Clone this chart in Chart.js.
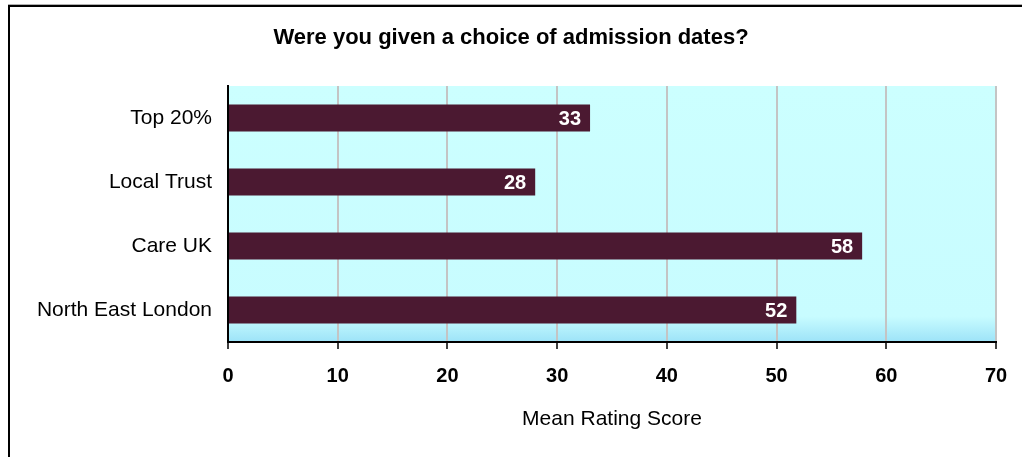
<!DOCTYPE html>
<html>
<head>
<meta charset="utf-8">
<script src="https://cdn.jsdelivr.net/npm/chart.js@4"></script>
<style>
    html, body { margin: 0; padding: 0; background: #fff; }
    #chart { display: block; }
</style>
</head>
<body>
<canvas id="chart" width="1022" height="457"></canvas>
<script>
const categories = ['Top 20%', 'Local Trust', 'Care UK', 'North East London'];
const scores = [33, 28, 57.8, 51.8];
const xTicks = [0, 10, 20, 30, 40, 50, 60, 70];

const barColor = '#4b1931';

// frame (top + left only) and the cyan plot background
const framePlugin = {
    id: 'frame',
    beforeDraw(chart) {
        const ctx = chart.ctx;
        const a = chart.chartArea;
        ctx.save();
        ctx.fillStyle = '#ffffff';
        ctx.fillRect(0, 0, chart.width, chart.height);
        const g = ctx.createLinearGradient(0, a.top, 0, a.bottom);
        g.addColorStop(0, '#ccffff');
        g.addColorStop(0.9, '#c8fcff');
        g.addColorStop(1, '#9de3f8');
        ctx.fillStyle = g;
        ctx.fillRect(a.left, a.top, a.right - a.left, a.bottom - a.top);
        ctx.fillStyle = '#b0b0b0';
        ctx.fillRect(8, 4, chart.width - 8, 1);
        ctx.fillStyle = '#000';
        ctx.fillRect(8, 5, chart.width - 8, 2);
        ctx.fillRect(8, 5, 2, chart.height - 5);
        ctx.restore();
    }
};

const valueLabels = {
    id: 'valueLabels',
    afterDatasetsDraw(chart) {
        const ctx = chart.ctx;
        const meta = chart.getDatasetMeta(0);
        ctx.save();
        ctx.font = 'bold 20px "Liberation Sans", Arial, sans-serif';
        ctx.fillStyle = '#ffffff';
        ctx.textAlign = 'right';
        ctx.textBaseline = 'middle';
        meta.data.forEach((bar, i) => {
            ctx.fillText(String(Math.round(scores[i])), bar.x - 9, bar.y + 1);
        });
        ctx.restore();
    }
};

const ctx = document.getElementById('chart').getContext('2d');

new Chart(ctx, {
    type: 'bar',
    data: {
        labels: categories,
        datasets: [{
            data: scores,
            backgroundColor: barColor,
            borderWidth: 0,
            barPercentage: 0.42,
            categoryPercentage: 1
        }]
    },
    options: {
        indexAxis: 'y',
        responsive: false,
        animation: false,
        layout: { padding: 0 },
        plugins: {
            legend: { display: false },
            tooltip: { enabled: false },
            title: {
                display: true,
                text: 'Were you given a choice of admission dates?',
                color: '#000',
                font: { family: '"Liberation Sans", Arial, sans-serif', size: 22, weight: 'bold', lineHeight: 1.2 },
                padding: { top: 25, bottom: 34.6 }
            }
        },
        scales: {
            x: {
                min: 0,
                max: 70,
                afterBuildTicks: scale => { scale.ticks = xTicks.map(v => ({ value: v })); },
                afterFit: scale => {
                    scale.height = 115;
                    scale.paddingLeft = 0;
                    scale.paddingRight = 26;
                },
                grid: {
                    color: '#c4c4c4',
                    lineWidth: 2,
                    tickLength: 7,
                    tickColor: '#000',
                    tickWidth: 1.5
                },
                border: { display: true, color: '#000', width: 2 },
                ticks: {
                    color: '#000',
                    padding: 15,
                    font: { family: '"Liberation Sans", Arial, sans-serif', size: 20, weight: 'bold' }
                },
                title: {
                    display: true,
                    text: 'Mean Rating Score',
                    color: '#000',
                    font: { family: '"Liberation Sans", Arial, sans-serif', size: 21, lineHeight: 1.2 },
                    padding: { top: 0, bottom: 25.4 }
                }
            },
            y: {
                afterFit: scale => {
                    scale.width = 228;
                    scale.paddingTop = 0;
                    scale.paddingBottom = 0;
                },
                grid: { display: false },
                border: { display: true, color: '#000', width: 2 },
                ticks: {
                    color: '#000',
                    padding: 8,
                    font: { family: '"Liberation Sans", Arial, sans-serif', size: 21 }
                }
            }
        }
    },
    plugins: [framePlugin, valueLabels]
});
</script>
</body>
</html>
